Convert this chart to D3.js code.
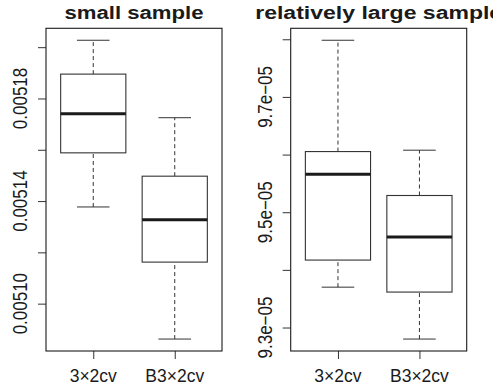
<!DOCTYPE html>
<html><head><meta charset="utf-8">
<script src="https://cdn.jsdelivr.net/npm/d3@7"></script>
<style>body{margin:0;background:#fff}svg{display:block}text{font-family:"Liberation Sans",Arial,Helvetica,sans-serif;fill:#1a1a1a}</style>
</head><body><svg id="c" width="493" height="389"></svg>
<script>
const categories = ["3×2cv", "B3×2cv"];
// five-number summaries: [lower whisker, Q1, median, Q3, upper whisker]
const smallStats = [
  [0.0051377, 0.0051588, 0.0051740, 0.0051895, 0.0052027],
  [0.0050862, 0.0051162, 0.0051327, 0.0051497, 0.0051725]
];
const largeStats = [
  [9.370e-5, 9.417e-5, 9.566e-5, 9.6052e-5, 9.7983e-5],
  [9.280e-5, 9.3615e-5, 9.457e-5, 9.529e-5, 9.6076e-5]
];
const smallTicks = [0.00510, 0.00512, 0.00514, 0.00516, 0.00518, 0.00520];
const smallTickLabels = ["0.00510", "", "0.00514", "", "0.00518", ""];
const largeTicks = [9.3e-5, 9.4e-5, 9.5e-5, 9.6e-5, 9.7e-5, 9.8e-5];
const largeTickLabels = ["9.3e\u221205", "", "9.5e\u221205", "", "9.7e\u221205", ""];
const titles = ["small sample", "relatively large sample"];

const svg = d3.select("#c");
const plotTop = 28.3, plotBottom = 351;

function panel(cfg) {
  const {left, right, stats, ticks, tickLabels, title, titleLen, labelX} = cfg;
  const all = stats.flat();
  const lo = d3.min(all), hi = d3.max(all), pad = (hi - lo) * 0.04;
  const y = d3.scaleLinear().domain([lo - pad, hi + pad]).range([plotBottom, plotTop]);
  const x = d3.scaleLinear().domain([0.42, 2.58]).range([left, right]);
  const g = svg.append("g");

  // y axis
  const yAxis = d3.axisLeft(y).tickValues(ticks).tickSize(8).tickFormat("");
  const ya = g.append("g").attr("transform", `translate(${left},0)`).call(yAxis);
  ya.select(".domain").remove();
  ya.selectAll(".tick line").attr("stroke", "#333");
  g.selectAll("text.ylab").data(ticks.map((t, i) => [t, tickLabels[i]]).filter(d => d[1]))
    .join("text").attr("class", "ylab")
    .attr("transform", d => `translate(${labelX},${y(d[0])}) scale(1.15,1) rotate(-90)`)
    .attr("text-anchor", "middle").attr("font-size", 17).text(d => d[1]);

  // x axis
  const xAxis = d3.axisBottom(x).tickValues([1, 2]).tickSize(8).tickFormat("");
  const xa = g.append("g").attr("transform", `translate(0,${plotBottom})`).call(xAxis);
  xa.select(".domain").remove();
  xa.selectAll(".tick line").attr("stroke", "#333");
  g.selectAll("text.xlab").data(categories).join("text").attr("class", "xlab")
    .attr("x", (d, i) => x(i + 1)).attr("y", 381.5).attr("text-anchor", "middle")
    .attr("font-size", 17.5).text(d => d);

  // boxes
  const bw = 0.8 * (x(1) - x(0)) / 2, cw = 0.4 * (x(1) - x(0)) / 2;
  stats.forEach((s, i) => {
    const cx = x(i + 1);
    const b = g.append("g");
    b.append("line").attr("x1", cx).attr("x2", cx).attr("y1", y(s[0])).attr("y2", y(s[1]))
      .attr("stroke", "#333").attr("stroke-dasharray", "4,3");
    b.append("line").attr("x1", cx).attr("x2", cx).attr("y1", y(s[3])).attr("y2", y(s[4]))
      .attr("stroke", "#333").attr("stroke-dasharray", "4,3");
    [s[0], s[4]].forEach(v => b.append("line").attr("x1", cx - cw).attr("x2", cx + cw)
      .attr("y1", y(v)).attr("y2", y(v)).attr("stroke", "#333"));
    b.append("rect").attr("x", cx - bw).attr("width", 2 * bw)
      .attr("y", y(s[3])).attr("height", y(s[1]) - y(s[3]))
      .attr("fill", "#fff").attr("stroke", "#333").attr("stroke-width", 1.1);
    b.append("line").attr("x1", cx - bw).attr("x2", cx + bw).attr("y1", y(s[2])).attr("y2", y(s[2]))
      .attr("stroke", "#1a1a1a").attr("stroke-width", 3);
  });

  // frame
  g.append("rect").attr("x", left).attr("y", plotTop).attr("width", right - left).attr("height", plotBottom - plotTop)
    .attr("fill", "none").attr("stroke", "#1a1a1a").attr("stroke-width", 1.1);

  // title
  g.append("text").attr("x", (left + right) / 2).attr("y", 18.5).attr("text-anchor", "middle")
    .attr("font-size", 18).attr("font-weight", "bold")
    .attr("textLength", titleLen).attr("lengthAdjust", "spacingAndGlyphs").text(title);
}

panel({left: 46, right: 222, stats: smallStats, ticks: smallTicks, tickLabels: smallTickLabels,
       title: titles[0], titleLen: 139, labelX: 26.5});
panel({left: 290.7, right: 466.7, stats: largeStats, ticks: largeTicks, tickLabels: largeTickLabels,
       title: titles[1], titleLen: 247, labelX: 271.5});
</script></body></html>
